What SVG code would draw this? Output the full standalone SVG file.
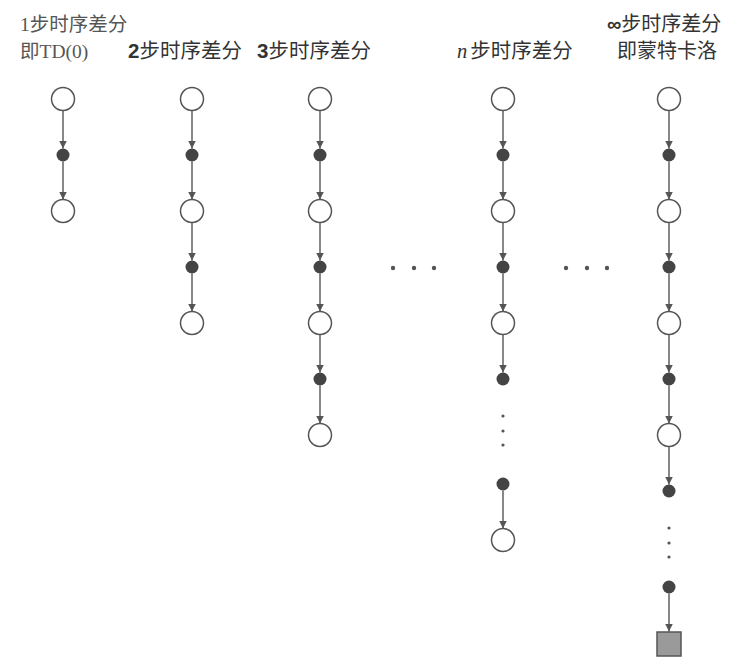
<svg xmlns="http://www.w3.org/2000/svg" width="741" height="667" viewBox="0 0 741 667">
<defs>
<marker id="ah" markerWidth="8" markerHeight="10" refX="8" refY="4" orient="auto" markerUnits="userSpaceOnUse">
<path d="M0,0 L8,4 L0,8 Z" fill="#555"/>
</marker>
<style>
.o{fill:#fff;stroke:#555;stroke-width:1.5}
.f{fill:#444}
.d{fill:#555}
.e{stroke:#555;stroke-width:1.4;fill:none;marker-end:url(#ah)}
.sq{fill:#9a9a9a;stroke:#555;stroke-width:1.5}
.t{font-family:"Noto Sans CJK SC","Liberation Sans",sans-serif;font-size:20.5px;fill:#333}
.s{font-family:"Liberation Serif",serif}
.b{font-family:"Liberation Sans",sans-serif;font-weight:bold}
</style>
</defs>
<rect width="741" height="667" fill="#fff"/>
<g id="labels">
<text class="t" x="20" y="31" style="fill:#555;font-size:19.5px"><tspan class="s">1</tspan>步时序差分</text>
<text class="t" x="20" y="58" style="fill:#555;font-size:19.5px"><tspan>即</tspan><tspan class="s">TD(0)</tspan></text>
<text class="t" x="128" y="58"><tspan class="b">2</tspan>步时序差分</text>
<text class="t" x="257" y="58"><tspan class="b">3</tspan>步时序差分</text>
<text class="t" x="457" y="58"><tspan class="s" font-style="italic">n</tspan><tspan dx="3">步时序差分</tspan></text>
<text class="t" x="607" y="31" style="font-size:20px"><tspan class="b">∞</tspan>步时序差分</text>
<text class="t" x="617" y="58" style="font-size:20px">即蒙特卡洛</text>
</g>
<g id="connectors">
<line class="e" x1="63" y1="110.5" x2="63" y2="148.5"/>
<line class="e" x1="63" y1="161.5" x2="63" y2="199.5"/>
<line class="e" x1="192" y1="110.5" x2="192" y2="148.5"/>
<line class="e" x1="192" y1="161.5" x2="192" y2="199.5"/>
<line class="e" x1="192" y1="222.5" x2="192" y2="260.5"/>
<line class="e" x1="192" y1="273.5" x2="192" y2="311.5"/>
<line class="e" x1="320" y1="110.5" x2="320" y2="148.5"/>
<line class="e" x1="320" y1="161.5" x2="320" y2="199.5"/>
<line class="e" x1="320" y1="222.5" x2="320" y2="260.5"/>
<line class="e" x1="320" y1="273.5" x2="320" y2="311.5"/>
<line class="e" x1="320" y1="334.5" x2="320" y2="372.5"/>
<line class="e" x1="320" y1="385.5" x2="320" y2="423.5"/>
<line class="e" x1="503" y1="110.5" x2="503" y2="148.5"/>
<line class="e" x1="503" y1="161.5" x2="503" y2="199.5"/>
<line class="e" x1="503" y1="222.5" x2="503" y2="260.5"/>
<line class="e" x1="503" y1="273.5" x2="503" y2="311.5"/>
<line class="e" x1="503" y1="334.5" x2="503" y2="372.5"/>
<line class="e" x1="503" y1="490.5" x2="503" y2="528.5"/>
<line class="e" x1="669" y1="110.5" x2="669" y2="148.5"/>
<line class="e" x1="669" y1="161.5" x2="669" y2="199.5"/>
<line class="e" x1="669" y1="222.5" x2="669" y2="260.5"/>
<line class="e" x1="669" y1="273.5" x2="669" y2="311.5"/>
<line class="e" x1="669" y1="334.5" x2="669" y2="372.5"/>
<line class="e" x1="669" y1="385.5" x2="669" y2="423.5"/>
<line class="e" x1="669" y1="446.5" x2="669" y2="484.5"/>
<line class="e" x1="669" y1="593.5" x2="669" y2="631.5"/>
</g>
<g id="col1">
<g id="c1n1"><circle class="o" cx="63" cy="99" r="11.5"/></g>
<g id="c1n2"><circle class="f" cx="63" cy="155" r="6.5"/></g>
<g id="c1n3"><circle class="o" cx="63" cy="211" r="11.5"/></g>
</g>
<g id="col2">
<g id="c2n1"><circle class="o" cx="192" cy="99" r="11.5"/></g>
<g id="c2n2"><circle class="f" cx="192" cy="155" r="6.5"/></g>
<g id="c2n3"><circle class="o" cx="192" cy="211" r="11.5"/></g>
<g id="c2n4"><circle class="f" cx="192" cy="267" r="6.5"/></g>
<g id="c2n5"><circle class="o" cx="192" cy="323" r="11.5"/></g>
</g>
<g id="col3">
<g id="c3n1"><circle class="o" cx="320" cy="99" r="11.5"/></g>
<g id="c3n2"><circle class="f" cx="320" cy="155" r="6.5"/></g>
<g id="c3n3"><circle class="o" cx="320" cy="211" r="11.5"/></g>
<g id="c3n4"><circle class="f" cx="320" cy="267" r="6.5"/></g>
<g id="c3n5"><circle class="o" cx="320" cy="323" r="11.5"/></g>
<g id="c3n6"><circle class="f" cx="320" cy="379" r="6.5"/></g>
<g id="c3n7"><circle class="o" cx="320" cy="435" r="11.5"/></g>
</g>
<g id="hdots1">
<circle class="d" cx="393" cy="268" r="2.2"/>
<circle class="d" cx="414" cy="268" r="2.2"/>
<circle class="d" cx="434" cy="268" r="2.2"/>
</g>
<g id="coln">
<g id="cnn1"><circle class="o" cx="503" cy="99" r="11.5"/></g>
<g id="cnn2"><circle class="f" cx="503" cy="155" r="6.5"/></g>
<g id="cnn3"><circle class="o" cx="503" cy="211" r="11.5"/></g>
<g id="cnn4"><circle class="f" cx="503" cy="267" r="6.5"/></g>
<g id="cnn5"><circle class="o" cx="503" cy="323" r="11.5"/></g>
<g id="cnn6"><circle class="f" cx="503" cy="379" r="6.5"/></g>
<g id="cnvdots">
<circle class="d" cx="503" cy="416" r="1.6"/>
<circle class="d" cx="503" cy="431" r="1.6"/>
<circle class="d" cx="503" cy="445" r="1.6"/>
</g>
<g id="cnn7"><circle class="f" cx="503" cy="484" r="6.5"/></g>
<g id="cnn8"><circle class="o" cx="503" cy="540" r="11.5"/></g>
</g>
<g id="hdots2">
<circle class="d" cx="566" cy="268" r="2.2"/>
<circle class="d" cx="587" cy="268" r="2.2"/>
<circle class="d" cx="607" cy="268" r="2.2"/>
</g>
<g id="colinf">
<g id="cin1"><circle class="o" cx="669" cy="99" r="11.5"/></g>
<g id="cin2"><circle class="f" cx="669" cy="155" r="6.5"/></g>
<g id="cin3"><circle class="o" cx="669" cy="211" r="11.5"/></g>
<g id="cin4"><circle class="f" cx="669" cy="267" r="6.5"/></g>
<g id="cin5"><circle class="o" cx="669" cy="323" r="11.5"/></g>
<g id="cin6"><circle class="f" cx="669" cy="379" r="6.5"/></g>
<g id="cin7"><circle class="o" cx="669" cy="435" r="11.5"/></g>
<g id="cin8"><circle class="f" cx="669" cy="491" r="6.5"/></g>
<g id="civdots">
<circle class="d" cx="669" cy="528" r="1.6"/>
<circle class="d" cx="669" cy="543" r="1.6"/>
<circle class="d" cx="669" cy="557" r="1.6"/>
</g>
<g id="cin9"><circle class="f" cx="669" cy="587" r="6.5"/></g>
<g id="cin10"><rect class="sq" x="657" y="632" width="24" height="24"/></g>
</g>
</svg>
